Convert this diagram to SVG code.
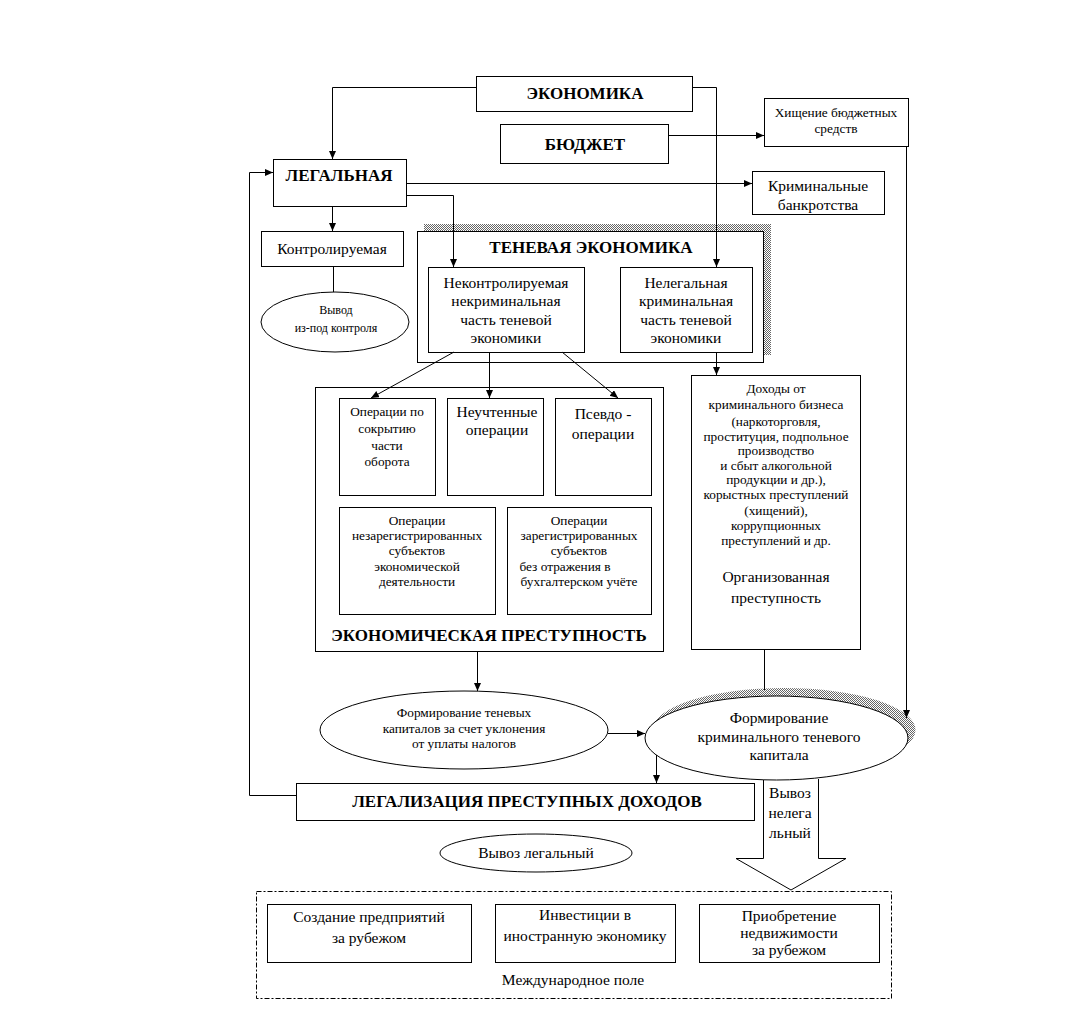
<svg xmlns="http://www.w3.org/2000/svg" width="1087" height="1013" viewBox="0 0 1087 1013" font-family="'Liberation Serif', serif">
<style>
.bx{fill:#fff;stroke:#000;stroke-width:1}
.ln{fill:none;stroke:#000;stroke-width:1}
.ar{fill:none;stroke:#000;stroke-width:1;marker-end:url(#ah)}
text{font-family:'Liberation Serif','Times New Roman',serif;fill:#000;text-anchor:middle}
.b{font-size:17px;font-weight:bold}
.m{font-size:15.5px}
.s{font-size:13.3px}
.xs{font-size:12px}
</style>
<defs>
<marker id="ah" markerUnits="userSpaceOnUse" markerWidth="8" markerHeight="8" refX="8" refY="3.5" orient="auto">
<path d="M0,0 L8,3.5 L0,7 z" fill="#000"/>
</marker>
<pattern id="hatch" patternUnits="userSpaceOnUse" width="2" height="2">
<rect width="2" height="2" fill="#fff"/>
<rect width="1" height="1" fill="#666"/>
<rect x="1" y="1" width="1" height="1" fill="#666"/>
</pattern>
</defs>
<rect width="1087" height="1013" fill="#fff"/>

<g id="n-economy">
<rect class="bx" x="476.5" y="76.5" width="216" height="35"/>
<text class="b" x="585" y="99">ЭКОНОМИКА</text>
</g>
<g id="n-budget">
<rect class="bx" x="500.5" y="124.5" width="168" height="39"/>
<text class="b" x="585" y="150">БЮДЖЕТ</text>
</g>
<g id="n-theft">
<rect class="bx" x="764.5" y="98.5" width="144" height="48"/>
<text class="s" x="836" y="117">Хищение бюджетных</text>
<text class="s" x="836" y="133">средств</text>
</g>
<g id="n-legal">
<rect class="bx" x="273.5" y="159.5" width="133" height="47"/>
<text class="b" x="339" y="181">ЛЕГАЛЬНАЯ</text>
</g>
<g id="n-bankrupt">
<rect class="bx" x="752.5" y="171.5" width="132" height="43"/>
<text class="m" x="818" y="191">Криминальные</text>
<text class="m" x="818" y="210">банкротства</text>
</g>
<g id="n-controlled">
<rect class="bx" x="261.5" y="231.5" width="142" height="35"/>
<text class="m" x="332" y="254">Контролируемая</text>
</g>
<g id="n-out-of-control">
<ellipse class="bx" cx="335" cy="322" rx="74" ry="30"/>
<text class="xs" x="336" y="314">Вывод</text>
<text class="xs" x="336" y="332">из-под контроля</text>
</g>
<g id="n-shadow-economy">
<rect x="424" y="224" width="347" height="131" fill="url(#hatch)"/>
<rect class="bx" x="417.5" y="231.5" width="346" height="131"/>
<text class="b" x="591" y="253">ТЕНЕВАЯ ЭКОНОМИКА</text>
</g>
<g id="n-uncontrolled">
<rect class="bx" x="428.5" y="267.5" width="156" height="85"/>
<text class="m" x="506" y="288">Неконтролируемая</text>
<text class="m" x="506" y="306">некриминальная</text>
<text class="m" x="506" y="325">часть теневой</text>
<text class="m" x="506" y="343">экономики</text>
</g>
<g id="n-illegal">
<rect class="bx" x="620.5" y="267.5" width="132" height="85"/>
<text class="m" x="686" y="288">Нелегальная</text>
<text class="m" x="686" y="306">криминальная</text>
<text class="m" x="686" y="325">часть теневой</text>
<text class="m" x="686" y="343">экономики</text>
</g>
<g id="n-econ-crime">
<rect class="bx" x="315.5" y="387.5" width="348" height="264"/>
<text class="b" x="489" y="641">ЭКОНОМИЧЕСКАЯ ПРЕСТУПНОСТЬ</text>
</g>
<g id="n-hiding">
<rect class="bx" x="339.5" y="398.5" width="96" height="97"/>
<text class="s" x="387" y="416">Операции по</text>
<text class="s" x="387" y="433">сокрытию</text>
<text class="s" x="387" y="450">части</text>
<text class="s" x="387" y="466">оборота</text>
</g>
<g id="n-unaccounted">
<rect class="bx" x="447.5" y="398.5" width="96" height="97"/>
<text class="m" x="497" y="417">Неучтенные</text>
<text class="m" x="497" y="435">операции</text>
</g>
<g id="n-pseudo">
<rect class="bx" x="555.5" y="398.5" width="96" height="97"/>
<text class="m" x="603" y="419">Псевдо -</text>
<text class="m" x="603" y="439">операции</text>
</g>
<g id="n-unregistered">
<rect class="bx" x="339.5" y="507.5" width="156" height="107"/>
<text class="s" x="417" y="525">Операции</text>
<text class="s" x="417" y="540">незарегистрированных</text>
<text class="s" x="417" y="555">субъектов</text>
<text class="s" x="417" y="571">экономической</text>
<text class="s" x="417" y="586">деятельности</text>
</g>
<g id="n-registered">
<rect class="bx" x="507.5" y="507.5" width="144" height="107"/>
<text class="s" x="579" y="525">Операции</text>
<text class="s" x="579" y="540">зарегистрированных</text>
<text class="s" x="579" y="555">субъектов</text>
<text class="s" x="565" y="571">без отражения в</text>
<text class="s" x="579" y="586">бухгалтерском учёте</text>
</g>
<g id="n-org-crime">
<rect class="bx" x="691.5" y="375.5" width="169" height="274"/>
<text class="s" x="776" y="393">Доходы от</text>
<text class="s" x="776" y="409">криминального бизнеса</text>
<text class="s" x="776" y="426">(наркоторговля,</text>
<text class="s" x="776" y="441">проституция, подпольное</text>
<text class="s" x="776" y="455">производство</text>
<text class="s" x="776" y="470">и сбыт алкогольной</text>
<text class="s" x="776" y="484">продукции и др.),</text>
<text class="s" x="776" y="499">корыстных преступлений</text>
<text class="s" x="776" y="515">(хищений),</text>
<text class="s" x="776" y="530">коррупционных</text>
<text class="s" x="776" y="545">преступлений и др.</text>
<text class="m" x="776" y="582">Организованная</text>
<text class="m" x="776" y="603">преступность</text>
</g>
<g id="n-tax-capital">
<ellipse class="bx" cx="464" cy="730" rx="144" ry="39"/>
<text class="s" x="464" y="717">Формирование теневых</text>
<text class="s" x="464" y="733">капиталов за счет уклонения</text>
<text class="s" x="464" y="748">от уплаты налогов</text>
</g>
<g id="n-illegal-export">
<polyline points="763.5,779 763.5,858.5 736,858.5 791,890 846,858.5 818.5,858.5 818.5,779" fill="#fff" stroke="#000" stroke-width="1"/>
<text class="m" x="790" y="798">Вывоз</text>
<text class="m" x="790" y="818">нелега</text>
<text class="m" x="790" y="838">льный</text>
</g>
<g id="n-crime-capital">
<ellipse cx="784" cy="730" rx="131.5" ry="42" fill="url(#hatch)"/>
<ellipse class="bx" cx="776.5" cy="738" rx="131.5" ry="42"/>
<text class="m" x="779" y="723">Формирование</text>
<text class="m" x="779" y="742">криминального теневого</text>
<text class="m" x="779" y="760">капитала</text>
</g>
<g id="n-legalization">
<rect class="bx" x="296.5" y="783.5" width="458" height="37"/>
<text class="b" x="527" y="807">ЛЕГАЛИЗАЦИЯ ПРЕСТУПНЫХ ДОХОДОВ</text>
</g>
<g id="n-legal-export">
<ellipse class="bx" cx="536" cy="853" rx="96" ry="19"/>
<text class="m" x="536" y="858">Вывоз легальный</text>
</g>
<g id="n-intl">
<rect x="256.5" y="891.5" width="635" height="107" fill="none" stroke="#000" stroke-width="1" stroke-dasharray="5,2,2,2"/>
<text class="m" x="573" y="985">Международное поле</text>
</g>
<g id="n-enterprises">
<rect class="bx" x="267.5" y="904.5" width="204" height="58"/>
<text class="m" x="369" y="922">Создание предприятий</text>
<text class="m" x="369" y="943">за рубежом</text>
</g>
<g id="n-invest">
<rect class="bx" x="495.5" y="904.5" width="180" height="58"/>
<text class="m" x="585" y="920">Инвестиции в</text>
<text class="m" x="585" y="941">иностранную экономику</text>
</g>
<g id="n-realty">
<rect class="bx" x="699.5" y="904.5" width="180" height="58"/>
<text class="m" x="789" y="921">Приобретение</text>
<text class="m" x="789" y="938">недвижимости</text>
<text class="m" x="789" y="955">за рубежом</text>
</g>

<g id="connectors">
<polyline class="ar" points="476,87.5 332.5,87.5 332.5,159"/>
<polyline class="ar" points="692,87.5 716.5,87.5 716.5,267"/>
<line class="ar" x1="668" y1="135.5" x2="764" y2="135.5"/>
<line class="ar" x1="906.5" y1="146" x2="906.5" y2="718"/>
<line class="ar" x1="406" y1="183.5" x2="752" y2="183.5"/>
<polyline class="ar" points="406,195.5 453.5,195.5 453.5,267"/>
<line class="ar" x1="332.5" y1="206" x2="332.5" y2="231"/>
<line class="ln" x1="333.5" y1="267" x2="333.5" y2="292"/>
<line class="ar" x1="454" y1="352" x2="371" y2="398"/>
<line class="ar" x1="489.5" y1="352" x2="489.5" y2="398"/>
<line class="ar" x1="562" y1="352" x2="618" y2="398"/>
<line class="ar" x1="716.5" y1="352" x2="716.5" y2="375"/>
<line class="ar" x1="477.5" y1="651" x2="477.5" y2="691"/>
<line class="ln" x1="764.5" y1="649" x2="764.5" y2="690"/>
<line class="ar" x1="608" y1="733.5" x2="645" y2="733.5"/>
<line class="ar" x1="656.5" y1="755" x2="656.5" y2="783"/>
<polyline class="ar" points="296,795.5 249.5,795.5 249.5,172.5 273,172.5"/>
</g>
</svg>
